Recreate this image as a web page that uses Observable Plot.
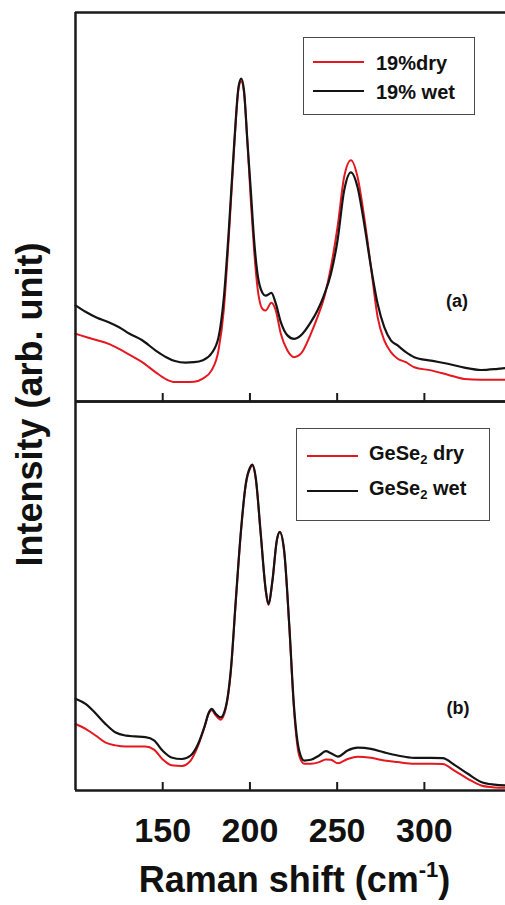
<!DOCTYPE html>
<html>
<head>
<meta charset="utf-8">
<script src="https://cdn.jsdelivr.net/npm/d3@7"></script>
<script src="https://cdn.jsdelivr.net/npm/@observablehq/plot@0.6"></script>
<style>
  body { margin: 0; background: #fff; }
  #fig { position: relative; width: 505px; height: 905px; font-family: "Liberation Sans", Arial, Helvetica, sans-serif; }
  .legend { position: absolute; box-sizing: border-box; border: 1.5px solid #4a4a4a; background: #fff; }
  .legend .swatch { position: absolute; height: 2.5px; }
  .legend .label { position: absolute; font-weight: bold; font-size: 20px; line-height: 24px; color: #111; white-space: nowrap; }
  .legend .label sub { font-size: 0.65em; vertical-align: -0.3em; line-height: 0; }
</style>
</head>
<body>
<div id="fig"></div>
<script>
// Raman spectra of Ge–Se glasses, dry vs. wet, two stacked panels
const FONT = "Liberation Sans, Arial, Helvetica, sans-serif";

const panels = ["a", "b"];
const panelTags = ["(a)", "(b)"];
const xTicks = [150, 200, 250, 300];
const xTitleParts = ["Raman shift (cm", "-1", ")"];
const yTitle = "Intensity (arb. unit)";
const kinds = ["dry", "wet"];
const kindColors = ["#e5171f", "#141414"];
// legend labels: [text, subscript, text]
const legendA = [["19%dry", "", ""], ["19% wet", "", ""]];
const legendB = [["GeSe", "2", " dry"], ["GeSe", "2", " wet"]];

// panel (a): 19% composition
const shiftA = [100, 106, 112, 119, 125, 131, 138, 146, 152, 157, 163, 168, 173, 178, 182, 185, 188, 191, 193.5, 195,
  196.6, 198.5, 200.5, 202.4, 204.3, 207.2, 209, 212.3, 214.8, 217.7, 221.5, 225.3, 229.2, 234.9, 238.7, 242.6, 246.4,
  250.2, 254, 257.9, 261.7, 265.5, 269.4, 273.2, 277, 280.8, 284.7, 289.4, 294.2, 303.8, 313.4, 322.9, 332.5, 342, 346.5];
const dryA = [17.4, 16.6, 15.8, 14.8, 13.5, 12.0, 10.2, 7.5, 5.7, 5.0, 5.0, 5.1, 5.9, 8.0, 13.2, 23.5, 43.2, 65.6, 80.5, 82.3,
  79.4, 67.1, 51.7, 38.8, 29.4, 23.8, 23.4, 25.4, 23.4, 17.4, 13.1, 11.4, 12.3, 17.4, 21.7, 26.8, 34.5,
  44.8, 57.7, 62.0, 57.7, 47.4, 34.5, 21.7, 15.7, 12.7, 11.0, 10.1, 8.8, 8.0, 6.9, 5.8, 5.6, 5.6, 5.6];
const wetA = [24.7, 23.0, 21.6, 20.4, 19.1, 17.4, 15.8, 13.1, 11.4, 10.4, 10.0, 10.1, 10.6, 12.4, 16.5, 26.5, 44.8, 66.5, 81.0, 83.0,
  79.9, 67.1, 54.2, 41.4, 32.9, 27.9, 27.2, 27.9, 25.2, 20.4, 17.0, 16.1, 17.0, 20.4, 23.4, 27.5, 32.8,
  41.4, 54.2, 58.9, 55.1, 45.7, 34.5, 25.1, 19.1, 15.7, 14.4, 12.7, 11.4, 10.5, 9.7, 8.7, 8.1, 8.4, 8.6];

// panel (b): GeSe2
const shiftB = [100, 106, 112, 117, 123, 129, 134, 140, 145, 150, 155, 161, 166, 170, 174, 176.5, 178.1, 180.4, 183.2, 186.1,
  189, 191.9, 194.7, 197.6, 200.1, 201.4, 203.3, 206.2, 209.1, 210.6, 212.9, 215.4, 217.1, 219.6, 222.5, 225.3, 228.2,
  231.1, 234.9, 239.7, 243.5, 246.4, 250.4, 256, 261.7, 269.4, 277, 284.7, 294.2, 303.8, 310.5, 317.2, 324.9, 332.5, 340.2, 346.5];
const dryB = [17.1, 15.8, 14.0, 12.4, 11.6, 11.3, 11.3, 11.3, 10.5, 8.0, 6.5, 6.3, 7.7, 11.2, 16.4, 19.9, 20.6, 19.3, 18.2, 21.0,
  30.3, 48.6, 65.7, 78.5, 82.8, 83.5, 80.2, 65.7, 51.2, 47.7, 53.8, 64.2, 66.5, 61.5, 42.5, 20.5, 9.0,
  6.9, 6.9, 7.3, 8.0, 7.9, 7.0, 8.1, 8.7, 8.4, 7.7, 7.3, 6.9, 6.9, 6.8, 5.1, 3.0, 1.3, 0.8, 0.7];
const wetB = [23.6, 22.2, 19.6, 17.2, 14.9, 14.1, 13.9, 13.7, 12.9, 10.2, 8.5, 8.1, 9.0, 11.7, 16.5, 20.1, 21.0, 19.7, 18.8, 21.4,
  30.8, 49.0, 66.0, 78.8, 83.1, 83.8, 80.5, 66.0, 51.4, 48.0, 54.0, 64.3, 66.4, 61.7, 42.9, 21.4, 10.3,
  7.7, 7.9, 9.0, 10.1, 9.6, 8.7, 10.3, 11.0, 10.7, 9.8, 9.0, 8.4, 8.4, 8.3, 6.6, 4.3, 2.2, 1.5, 1.3];

const toRows = (panel, kind, shift, values) => shift.map((x, i) => ({panel, kind, x, v: values[i]}));
const dryRows = [...toRows("a", "dry", shiftA, dryA), ...toRows("b", "dry", shiftB, dryB)];
const wetRows = [...toRows("a", "wet", shiftA, wetA), ...toRows("b", "wet", shiftB, wetB)];

const AXIS = "#1a1a1a";
const TITLE_SIZE = 36;
const centered = {textAnchor: "middle", lineAnchor: "middle", fontWeight: "bold"};

const chart = Plot.plot({
  width: 505,
  height: 905,
  marginLeft: 75,
  marginRight: 0,
  marginTop: 12,
  marginBottom: 115,
  style: {fontFamily: FONT, background: "#fff", color: "#111", overflow: "visible"},
  x: {domain: [100, 346.5]},
  y: {domain: [0, 100], axis: null},
  fy: {domain: panels, padding: 0, axis: null},
  marks: [
    Plot.line(dryRows, {x: "x", y: "v", fy: "panel", stroke: kindColors[0], strokeWidth: 2, curve: "monotone-x"}),
    Plot.line(wetRows, {x: "x", y: "v", fy: "panel", stroke: kindColors[1], strokeWidth: 2.2, curve: "monotone-x"}),
    // panel borders: left edge plus top and bottom of each panel
    Plot.ruleX([100], {stroke: AXIS, strokeWidth: 2.5}),
    Plot.ruleY([0, 100], {stroke: AXIS, strokeWidth: 2.5}),
    // inward ticks at the foot of each panel
    Plot.tickX(xTicks, {x: d => d, insetTop: 381, stroke: AXIS, strokeWidth: 2}),
    Plot.axisX(xTicks, {tickSize: 0, tickPadding: 27, fontSize: 34, fontWeight: "bold", label: null}),
    Plot.text([panelTags[0]], {fy: () => panels[0], frameAnchor: "bottom-right", dx: -48.5, dy: -100, fontSize: 18, ...centered}),
    Plot.text([panelTags[1]], {fy: () => panels[1], frameAnchor: "bottom-right", dx: -47.5, dy: -82, fontSize: 18, ...centered}),
    Plot.text([yTitle], {fy: () => panels[0], frameAnchor: "bottom-left", rotate: -90, dx: -45, dy: 3, fontSize: TITLE_SIZE, ...centered}),
    Plot.text([xTitleParts.join("")], {fy: () => panels[1], frameAnchor: "bottom", dx: 4, dy: 90, fontSize: TITLE_SIZE, ...centered})
  ]
});

// superscript on the x-axis title
d3.select(chart).selectAll("text")
  .filter(function () { return this.textContent === xTitleParts.join(""); })
  .each(function () {
    const t = d3.select(this);
    const shift = Math.round(TITLE_SIZE * 0.42);
    t.text(null);
    t.append("tspan").text(xTitleParts[0]);
    t.append("tspan").attr("dy", -shift).attr("font-size", Math.round(TITLE_SIZE * 0.6)).text(xTitleParts[1]);
    t.append("tspan").attr("dy", shift).text(xTitleParts[2]);
  });

const fig = document.getElementById("fig");
fig.appendChild(chart);

// legends drawn inside each panel
function addLegend(labels, box) {
  const div = d3.select(fig).append("div").attr("class", "legend")
    .style("left", box.left + "px").style("top", box.top + "px")
    .style("width", box.width + "px").style("height", box.height + "px");
  labels.forEach((parts, i) => {
    const cy = box.rows[i];
    div.append("div").attr("class", "swatch")
      .style("left", box.swatchLeft + "px").style("width", box.swatchWidth + "px")
      .style("top", (cy - 1.25) + "px").style("background", kindColors[i]);
    const lab = div.append("div").attr("class", "label")
      .style("left", box.textLeft + "px").style("top", (cy - 12 + box.textShift) + "px");
    lab.append("span").text(parts[0]);
    if (parts[1]) lab.append("sub").text(parts[1]);
    if (parts[2]) lab.append("span").text(parts[2]);
  });
}
addLegend(legendA, {left: 303, top: 37, width: 172, height: 78, rows: [24, 53], swatchLeft: 9, swatchWidth: 51, textLeft: 72, textShift: 1});
addLegend(legendB, {left: 296, top: 428, width: 194, height: 93, rows: [27, 62], swatchLeft: 10, swatchWidth: 51, textLeft: 72, textShift: -3});
</script>
</body>
</html>
